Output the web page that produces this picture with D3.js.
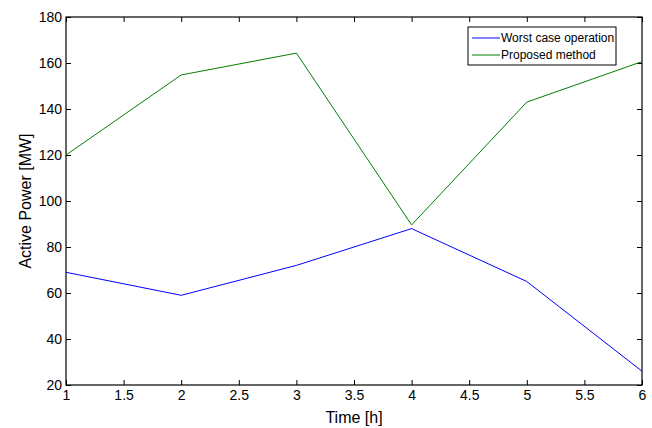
<!DOCTYPE html>
<html>
<head>
<meta charset="utf-8">
<script src="https://cdn.jsdelivr.net/npm/d3@7"></script>
<style>
  body { margin: 0; background: #fff; }
  text { font-family: Arial, "Liberation Sans", sans-serif; }
</style>
</head>
<body>
<svg id="chart" width="652" height="428"></svg>
<script>
var hours = [1, 2, 3, 4, 5, 6];
var worstCase = [69, 59, 72, 88, 65, 26];
var proposed = [120, 154.8, 164.3, 89.6, 143, 160.6];
var xTicks = [1, 1.5, 2, 2.5, 3, 3.5, 4, 4.5, 5, 5.5, 6];
var yTicks = [20, 40, 60, 80, 100, 120, 140, 160, 180];
var seriesNames = ["Worst case operation", "Proposed method"];
var seriesColors = ["#0000ff", "#008000"];

var svg = d3.select('#chart');
var margin = {left: 66, top: 17, right: 10, bottom: 43};
var W = 652, H = 428;

var x = d3.scaleLinear().domain([1, 6]).range([margin.left, W - margin.right]);
var y = d3.scaleLinear().domain([20, 180]).range([H - margin.bottom, margin.top]);

// inward ticks on all four sides
function tickAxis(axis, tr){
	var g = svg.append('g').attr('transform', tr).call(axis);
	g.select('.domain').remove();
	g.selectAll('line').attr('stroke', '#000');
	return g;
}

var xb = tickAxis(d3.axisBottom(x).tickValues(xTicks).tickSize(-5).tickFormat(d3.format('')),
	'translate(0,' + y(20) + ')');
xb.selectAll('text').attr('dy', '0.85em').style('font-size', '14px').attr('fill', '#000');
tickAxis(d3.axisTop(x).tickValues(xTicks).tickSize(-5).tickFormat(''), 'translate(0,' + y(180) + ')');

var yl = tickAxis(d3.axisLeft(y).tickValues(yTicks).tickSize(-5), 'translate(' + x(1) + ',0)');
yl.selectAll('text').attr('x', -4).style('font-size', '14px').attr('fill', '#000');
tickAxis(d3.axisRight(y).tickValues(yTicks).tickSize(-5).tickFormat(''), 'translate(' + x(6) + ',0)');

svg.append('rect')
	.attr('x', x(1)).attr('y', y(180))
	.attr('width', x(6) - x(1)).attr('height', y(20) - y(180))
	.attr('fill', 'none').attr('stroke', '#000').attr('stroke-width', 1.2);

var line = d3.line().x(function(d, i){ return x(hours[i]); }).y(function(d){ return y(d); });

[worstCase, proposed].forEach(function(vals, k){
	svg.append('path').datum(vals)
		.attr('d', line)
		.attr('fill', 'none')
		.attr('stroke', seriesColors[k])
		.attr('stroke-width', 1);
});

// axis titles
svg.append('text')
	.attr('x', (x(1) + x(6)) / 2).attr('y', 423)
	.attr('text-anchor', 'middle').style('font-size', '16px')
	.text('Time [h]');
svg.append('text')
	.attr('transform', 'translate(31,' + (y(20) + y(180)) / 2 + ') rotate(-90)')
	.attr('text-anchor', 'middle').style('font-size', '16px')
	.text('Active Power [MW]');

// legend
var lg = svg.append('g').attr('transform', 'translate(468,27)');
lg.append('rect').attr('width', 148).attr('height', 38)
	.attr('fill', '#fff').attr('stroke', '#000').attr('stroke-width', 1);
seriesNames.forEach(function(name, k){
	var cy = 11 + k * 17;
	lg.append('line').attr('x1', 4).attr('x2', 32).attr('y1', cy).attr('y2', cy)
		.attr('stroke', seriesColors[k]).attr('stroke-width', 1);
	lg.append('text').attr('x', 33).attr('y', cy + 4)
		.style('font-size', '12px').text(name);
});
</script>
</body>
</html>
